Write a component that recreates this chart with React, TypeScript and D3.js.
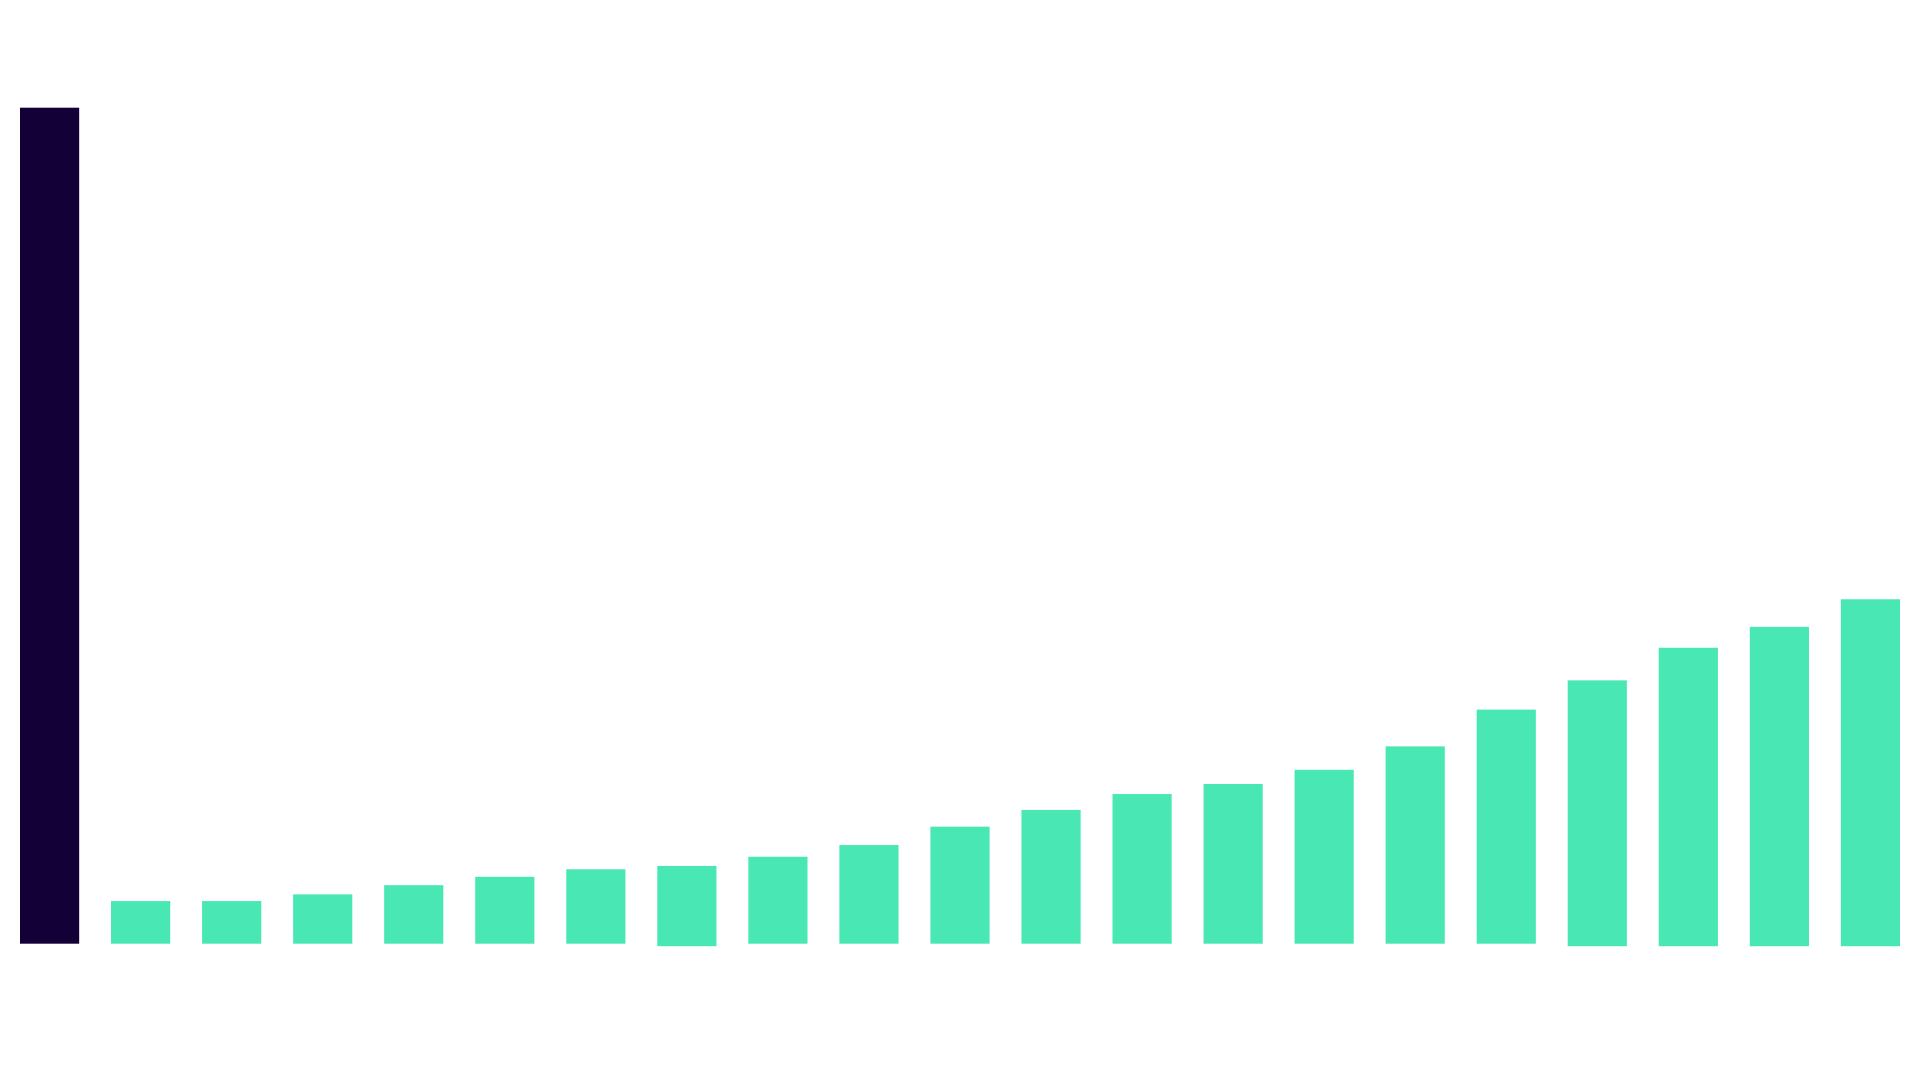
import * as d3 from "d3";
import { useEffect, useRef } from "react";

// first bar is the total, the rest are the steps
const categories = [
  "Total", "1", "2", "3", "4", "5", "6", "7", "8", "9", "10",
  "11", "12", "13", "14", "15", "16", "17", "18", "19", "20",
];
const values = [
  100, 5.1, 5.1, 5.9, 7.0, 8.0, 8.9, 9.3, 10.4, 11.8, 14.0,
  16.0, 17.9, 19.1, 20.8, 23.6, 28.0, 31.5, 35.4, 37.9, 41.2,
];
// a few bars dip slightly below the baseline
const lows = [
  0, 0, 0, 0, 0, 0, 0, -0.3, 0, 0, 0,
  0, 0, 0, 0, 0, 0, -0.3, -0.3, -0.3, -0.3,
];

const width = 1920;
const height = 1080;

export default function App() {
  const svgRef = useRef<SVGSVGElement | null>(null);

  useEffect(() => {
    if (!svgRef.current) return;
    const svg = d3.select(svgRef.current);
    svg.selectAll("*").remove();

    const x = d3
      .scaleBand<string>()
      .domain(categories)
      .range([20, 1900])
      .paddingInner(0.35)
      .paddingOuter(0);

    const y = d3
      .scaleLinear()
      .domain([0, d3.max(values) || 0])
      .range([943.7, 107.7]);

    const rows = categories.map((c, i) => ({ c, v: values[i], lo: lows[i], i }));

    svg
      .selectAll("rect.bar")
      .data(rows)
      .enter()
      .append("rect")
      .attr("class", "bar")
      .attr("x", (d) => x(d.c)!)
      .attr("width", x.bandwidth())
      .attr("y", (d) => y(d.v))
      .attr("height", (d) => y(d.lo) - y(d.v))
      .attr("fill", (d) => (d.i === 0 ? "#130037" : "#49E7B3"));
  }, []);

  return (
    <div style={{ position: "fixed", left: 0, top: 0, width, height, background: "#fff" }}>
      <svg ref={svgRef} width={width} height={height} style={{ display: "block" }} />
    </div>
  );
}
